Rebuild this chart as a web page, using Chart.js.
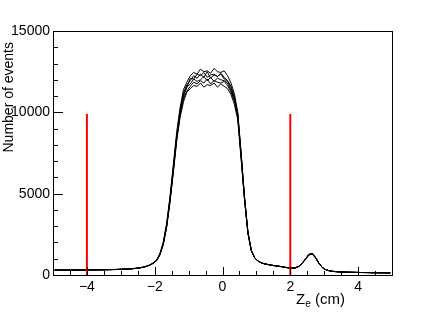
<!DOCTYPE html>
<html>
<head>
<meta charset="utf-8">
<script src="https://cdn.jsdelivr.net/npm/chart.js@4"></script>
<style>
  html, body { margin: 0; padding: 0; background: #fff; }
  canvas { display: block; }
</style>
</head>
<body>
<canvas id="zChart" width="436" height="313"></canvas>
<script>
'use strict';

// ── Binning (100 bins of 0.1 cm between -5 and 5) ─────────────────────────
const BIN_LO = -5;
const BIN_W  = 0.1;

// ── Histogram contents (events per bin), one array per overlaid run ──────
const run1 = [
  305,300,300,310,295,300,310,305,300,315,305,320,310,320,325,320,330,335,345,340,
  360,360,380,395,415,445,480,540,620,740,
  900,1300,2000,3150,4800,6800,8800,10300,11400,11850,
  12250,12450,12350,12650,12500,12550,12400,12700,12500,12450,12550,12250,11800,11150,
  10000,7500,4800,2650,1520,1060,
  860,745,690,645,605,575,545,515,475,445,425,445,540,740,1000,1280,1330,1070,710,455,
  325,262,228,208,192,182,176,170,166,160,156,152,150,146,142,140,136,134,132,130
];
const run2 = [
  295,300,310,300,305,300,295,310,305,305,315,310,320,315,325,330,325,340,335,350,
  350,370,370,390,405,435,470,525,605,715,
  870,1230,1880,2950,4550,6450,8450,10000,11100,11550,
  12100,12050,12350,12250,12450,12150,12300,12350,12200,12400,12150,11950,11600,10950,
  9850,7350,4700,2600,1500,1050,
  855,740,680,640,600,570,540,510,470,440,420,440,525,715,975,1240,1290,1040,695,448,
  318,258,224,206,190,180,175,170,165,160,155,150,149,145,141,139,135,135,130,129
];
const run3 = [
  300,295,305,300,300,305,300,310,305,310,310,315,315,320,320,325,330,335,340,345,
  355,365,375,390,410,440,475,530,610,720,
  880,1250,1900,3000,4600,6500,8500,10000,10950,11550,
  11750,12050,11900,12000,12200,11950,12150,11900,12100,12000,11950,11800,11350,10800,
  9800,7300,4700,2600,1500,1050,
  850,740,680,640,600,570,540,510,470,440,420,440,530,720,980,1250,1300,1050,700,450,
  320,260,225,205,190,180,175,170,165,160,155,150,150,145,140,140,135,135,130,130
];
const run4 = [
  300,305,295,300,305,310,300,300,310,305,310,315,320,315,320,325,335,330,340,345,
  355,365,375,385,410,440,475,530,610,720,
  875,1240,1880,2970,4550,6420,8400,9850,10850,11300,
  11600,11850,11750,11950,11800,12050,11750,11950,11850,11800,11900,11650,11250,10700,
  9700,7200,4650,2580,1490,1045,
  850,738,678,638,598,568,538,508,468,438,418,438,528,718,985,1260,1310,1055,705,452,
  322,262,226,204,191,181,174,171,164,161,154,151,149,144,141,139,136,134,131,130
];
const run5 = [
  310,300,300,295,305,300,305,300,300,310,305,310,315,320,315,325,330,340,335,345,
  350,360,380,390,405,435,470,525,600,705,
  860,1210,1840,2900,4450,6300,8250,9700,10650,11250,
  11450,11650,11600,11800,11550,11700,11650,11800,11550,11750,11600,11450,11100,10500,
  9550,7100,4600,2560,1480,1040,
  845,735,675,635,595,565,535,505,465,435,415,435,520,705,960,1230,1280,1030,690,445,
  316,256,222,204,189,179,173,169,164,159,154,150,148,144,140,138,135,133,130,128
];
const run6 = [
  300,310,300,305,300,295,305,305,305,300,315,315,310,325,320,330,330,330,340,350,
  360,365,370,395,410,445,480,535,615,730,
  890,1270,1950,3050,4700,6650,8650,10150,11200,11700,
  11950,12250,12100,12350,12150,12500,12100,12300,12200,12350,12050,11900,11500,10850,
  9900,7400,4750,2620,1510,1055,
  858,742,682,642,602,572,542,512,472,442,422,442,535,730,990,1265,1315,1060,700,450,
  320,260,226,206,191,181,175,170,165,160,155,151,150,145,142,140,135,135,131,130
];
const RUNS = [run1, run2, run3, run4, run5, run6];

// ── Selection cut lines (red) ────────────────────────────────────────────
const CUT_X   = [-4, 2];
const CUT_TOP = 9900;

// ── Axis ticks ───────────────────────────────────────────────────────────
const X_TICKS = [-4, -2, 0, 2, 4];
const Y_TICKS = [0, 5000, 10000, 15000];
const X_MINOR_STEP = 0.5;
const Y_MINOR_STEP = 1000;

const FONT = "'Liberation Sans', Arial, Helvetica, sans-serif";
const INK  = '#000000';
const RED  = '#ff0000';

const toPoints = (vals) => vals.map((v, i) => ({ x: BIN_LO + BIN_W * (i + 0.5), y: v }));

// ── ROOT-style frame: inward ticks, box and axis titles ──────────────────
const rootFrame = {
  id: 'rootFrame',
  afterDraw(chart) {
    const { ctx, chartArea: a, scales: { x, y } } = chart;
    ctx.save();
    ctx.strokeStyle = INK;
    ctx.lineWidth = 1;

    // box
    ctx.strokeRect(a.left + 0.5, a.top + 0.5, a.right - a.left, a.bottom - a.top);

    ctx.beginPath();
    // x ticks (pointing up into the frame)
    for (let v = x.min; v <= x.max + 1e-9; v += X_MINOR_STEP) {
      const px = Math.round(x.getPixelForValue(v)) + 0.5;
      const major = X_TICKS.some(t => Math.abs(t - v) < 1e-6);
      const len = major ? 8 : 4;
      ctx.moveTo(px, a.bottom);
      ctx.lineTo(px, a.bottom - len);
    }
    // y ticks (pointing right into the frame)
    for (let v = y.min; v <= y.max + 1e-9; v += Y_MINOR_STEP) {
      const py = Math.round(y.getPixelForValue(v)) + 0.5;
      const major = Y_TICKS.includes(v);
      const len = major ? 10 : 5;
      ctx.moveTo(a.left, py);
      ctx.lineTo(a.left + len, py);
    }
    ctx.stroke();

    // y title, rotated, ending near the top
    ctx.fillStyle = INK;
    ctx.save();
    ctx.translate(13, 42);
    ctx.rotate(-Math.PI / 2);
    ctx.font = `14px ${FONT}`;
    ctx.textAlign = 'right';
    ctx.textBaseline = 'alphabetic';
    ctx.fillText('Number of events', 0, 0);
    ctx.restore();

    // x title: Z with subscript e, then (cm)
    ctx.textAlign = 'left';
    ctx.textBaseline = 'alphabetic';
    let tx = 296;
    const base = 304;
    ctx.font = `15px ${FONT}`;
    ctx.fillText('Z', tx, base);
    tx += ctx.measureText('Z').width;
    ctx.font = `10px ${FONT}`;
    ctx.fillText('e', tx, base + 3);
    tx += ctx.measureText('e').width;
    ctx.font = `15px ${FONT}`;
    ctx.fillText(' (cm)', tx, base);
    ctx.restore();
  }
};

const datasets = [
  ...CUT_X.map(cx => ({
    data: [{ x: cx, y: 0 }, { x: cx, y: CUT_TOP }],
    borderColor: RED,
    borderWidth: 2,
    pointRadius: 0,
    order: 0,
  })),
  ...RUNS.map(r => ({
    data: toPoints(r),
    borderColor: INK,
    borderWidth: 1,
    pointRadius: 0,
    tension: 0,
    order: 1,
  })),
];

new Chart(document.getElementById('zChart'), {
  type: 'line',
  data: { datasets },
  plugins: [rootFrame],
  options: {
    responsive: false,
    animation: false,
    devicePixelRatio: 1,
    layout: { padding: { top: 31, right: 44, left: 0, bottom: 0 } },
    plugins: { legend: { display: false }, tooltip: { enabled: false } },
    scales: {
      x: {
        type: 'linear',
        min: -5,
        max: 5,
        afterBuildTicks: (s) => { s.ticks = X_TICKS.map(v => ({ value: v })); },
        afterFit: (s) => { s.height = 38; },
        grid: { display: false, drawTicks: false },
        border: { display: false },
        ticks: {
          color: INK,
          padding: 4,
          maxRotation: 0,
          font: { family: FONT, size: 14 },
          callback: (v) => String(v).replace('-', '\u2212'),
        },
      },
      y: {
        type: 'linear',
        min: 0,
        max: 15000,
        afterBuildTicks: (s) => { s.ticks = Y_TICKS.map(v => ({ value: v })); },
        afterFit: (s) => { s.width = 53; },
        grid: { display: false, drawTicks: false },
        border: { display: false },
        ticks: {
          color: INK,
          padding: 3,
          font: { family: FONT, size: 14 },
          callback: (v) => String(v),
        },
      },
    },
  },
});
</script>
</body>
</html>
